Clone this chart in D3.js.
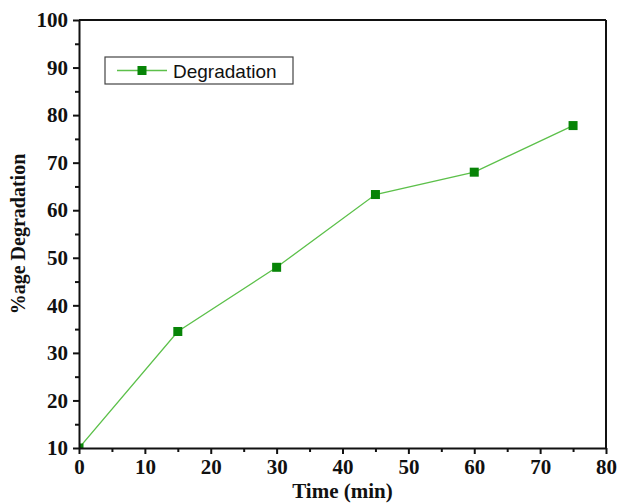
<!DOCTYPE html>
<html>
<head>
<meta charset="utf-8">
<script src="https://cdn.jsdelivr.net/npm/d3@7"></script>
<style>
  body { margin: 0; background: #fff; }
  svg { display: block; }
</style>
</head>
<body>
<svg id="chart"></svg>
<script>
// datos del gráfico
const timeMin = [0, 15, 30, 45, 60, 75];
const degradation = [10, 34.5, 48, 63.3, 68, 77.8];
const xTicks = [0, 10, 20, 30, 40, 50, 60, 70, 80];
const yTicks = [10, 20, 30, 40, 50, 60, 70, 80, 90, 100];
const seriesName = "Degradation";

const width = 617, height = 504;
const margin = { top: 20, right: 11, bottom: 56, left: 79 };
const lineColor = "#5cc04a", markerColor = "#078407";

const svg = d3.select("#chart").attr("width", width).attr("height", height);

const x = d3.scaleLinear().domain([0, 80]).range([margin.left, width - margin.right]);
const y = d3.scaleLinear().domain([10, 100]).range([height - margin.bottom, margin.top]);

// recorte del área del gráfico
svg.append("clipPath").attr("id", "clip")
  .append("rect")
  .attr("x", margin.left).attr("y", margin.top)
  .attr("width", x(80) - x(0)).attr("height", y(10) - y(100));

const plot = svg.append("g").attr("clip-path", "url(#clip)");

const line = d3.line().x((d, i) => x(timeMin[i])).y(d => y(d));
plot.append("path")
  .datum(degradation)
  .attr("fill", "none")
  .attr("stroke", lineColor)
  .attr("stroke-width", 1.3)
  .attr("d", line);

plot.selectAll("rect.pt")
  .data(degradation)
  .enter().append("rect")
  .attr("class", "pt")
  .attr("x", (d, i) => x(timeMin[i]) - 4.5)
  .attr("y", d => y(d) - 4.5)
  .attr("width", 9).attr("height", 9)
  .attr("fill", markerColor);

// ejes
const axisFont = "'Liberation Serif', 'Times New Roman', serif";

svg.append("g")
  .attr("transform", `translate(0,${y(10)})`)
  .call(d3.axisBottom(x).tickValues(xTicks).tickSize(6).tickSizeOuter(0).tickPadding(5));
svg.append("g")
  .attr("transform", `translate(0,${y(10)})`)
  .call(d3.axisBottom(x).tickValues(d3.range(5, 80, 10)).tickSize(4).tickFormat(""))
  .call(g => g.select(".domain").remove());

svg.append("g")
  .attr("transform", `translate(${x(0)},0)`)
  .call(d3.axisLeft(y).tickValues(yTicks).tickSize(6).tickSizeOuter(0).tickPadding(5));
svg.append("g")
  .attr("transform", `translate(${x(0)},0)`)
  .call(d3.axisLeft(y).tickValues(d3.range(15, 100, 10)).tickSize(4).tickFormat(""))
  .call(g => g.select(".domain").remove());

svg.selectAll(".domain, .tick line").attr("stroke", "#111").attr("stroke-width", 2);
svg.selectAll(".tick text")
  .attr("fill", "#111")
  .style("font-family", axisFont)
  .style("font-weight", "bold")
  .style("font-size", "21px");

// bordes superior y derecho
svg.append("line")
  .attr("x1", x(0)).attr("x2", x(80)).attr("y1", y(100)).attr("y2", y(100))
  .attr("stroke", "#111").attr("stroke-width", 2);
svg.append("line")
  .attr("x1", x(80)).attr("x2", x(80)).attr("y1", y(100)).attr("y2", y(10))
  .attr("stroke", "#111").attr("stroke-width", 2);

// títulos de ejes
svg.append("text")
  .attr("x", (x(0) + x(80)) / 2).attr("y", 498)
  .attr("text-anchor", "middle")
  .style("font-family", axisFont).style("font-weight", "bold").style("font-size", "21px")
  .attr("fill", "#111")
  .text("Time (min)");

svg.append("text")
  .attr("transform", `translate(25,${(y(10) + y(100)) / 2}) rotate(-90)`)
  .attr("text-anchor", "middle")
  .style("font-family", axisFont).style("font-weight", "bold").style("font-size", "20px")
  .attr("fill", "#111")
  .text("%age Degradation");

// leyenda
const legend = svg.append("g").attr("transform", "translate(105,57)");
legend.append("rect")
  .attr("width", 188).attr("height", 27)
  .attr("fill", "#fff").attr("stroke", "#444").attr("stroke-width", 1.2);
legend.append("line")
  .attr("x1", 12).attr("x2", 62).attr("y1", 13.5).attr("y2", 13.5)
  .attr("stroke", lineColor).attr("stroke-width", 1.3);
legend.append("rect")
  .attr("x", 32.5).attr("y", 9).attr("width", 9).attr("height", 9)
  .attr("fill", markerColor);
legend.append("text")
  .attr("x", 68).attr("y", 20.5)
  .style("font-family", "'Liberation Sans', Arial, sans-serif").style("font-size", "19px")
  .attr("fill", "#111")
  .text(seriesName);
</script>
</body>
</html>
